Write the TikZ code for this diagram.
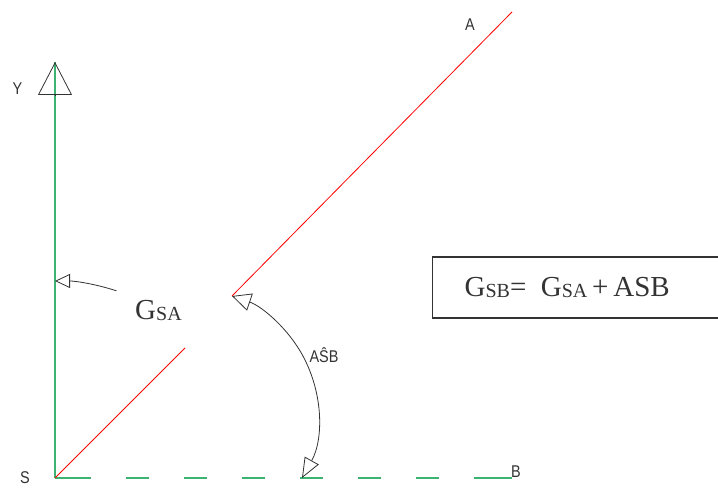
\documentclass[tikz,border=0pt]{standalone}
\usepackage{fontspec}
\setmainfont{Liberation Serif}
\newfontfamily\cadfont[FakeStretch=0.85]{Liberation Sans}
\usetikzlibrary{arrows.meta, calc}

\definecolor{axisgreen}{RGB}{60,179,113}
\definecolor{inkgray}{RGB}{51,51,51}
\newcommand{\lowsub}[1]{{\fontsize{20}{20}\selectfont\raisebox{-1pt}{#1}}}

\begin{document}
\begin{tikzpicture}[
  x = 1pt, y = 1pt,
  axis/.style    = {draw=axisgreen, line width=1.1pt},
  ray/.style     = {draw=red, line width=0.8pt},
  dimline/.style = {draw=inkgray, line width=0.8pt},
  cadlbl/.style  = {font=\cadfont\fontsize{17}{17}\selectfont,
                    text=inkgray, inner sep=0pt},
  serif/.style   = {font=\fontsize{29}{29}\selectfont,
                    text=inkgray, inner sep=0pt},
  formula/.style = {draw=inkgray, line width=1.2pt, rectangle,
                    minimum height=61pt, inner xsep=32pt,
                    text width=226pt, align=left,
                    font=\fontsize{29}{29}\selectfont, text=inkgray}
]
\useasboundingbox (0,0) rectangle (718,489);

%── Точки ─────────────────────────────────────────────────────────────────
\coordinate (S)      at (55,11);
\coordinate (y_tip)  at (55,427);
\coordinate (b_end)  at (512,11);
\coordinate (sa_cut) at (185,141);
\coordinate (sa_on)  at (232,193);
\coordinate (a_end)  at (512,477);
\coordinate (gsa_from) at ($(S)+(71.8:197)$);
\coordinate (asb_from) at (302,11);

%── Оси ───────────────────────────────────────────────────────────────────
\draw[axis] (S) -- (y_tip);
\draw[dimline, -{Triangle[open, length=33pt, width=34pt]}]
  ($(y_tip)+(0,-33.5)$) -- (y_tip);

\draw[axis, dash pattern=on 36pt off 35pt on 23pt off 35pt on 23pt off 35pt
  on 23pt off 35pt on 23pt off 35pt on 23pt off 35pt on 23pt off 35pt on 40pt]
  (S) -- (b_end);

%── Направление SA ────────────────────────────────────────────────────────
\draw[ray] (S) -- (sa_cut);
\draw[ray] (sa_on) -- (a_end);

%── Дуги углов ────────────────────────────────────────────────────────────
\draw[dimline, -{Triangle[open, length=15pt, width=14pt]}]
  (gsa_from) arc[start angle=71.8, end angle=90, radius=197];

\draw[dimline, {Triangle[open, length=20pt, width=16pt]}-{Triangle[open, length=19pt, width=18pt]}]
  (asb_from) arc[start angle=-29.2, end angle=71.3, radius=126.8];

%── Подписи ───────────────────────────────────────────────────────────────
\node[cadlbl] (lbl_y) at (17.5,400.5) {Y};
\node[cadlbl] (lbl_s) at (25,11) {S};
\node[cadlbl] (lbl_a) at (470,464) {A};
\node[cadlbl, anchor=base west] (lbl_b) at (511,11) {B};
\node[cadlbl, anchor=base] (lbl_asb) at (324,126) {A\^{S}B};

\node[serif, anchor=base west] (lbl_gsa) at (135,169) {G\lowsub{SA}};

\node[formula, anchor=west] (eq_box) at (432,201.5)
  {G\lowsub{SB}=\ \,G\lowsub{SA}\,+\,ASB};

\end{tikzpicture}
\end{document}
